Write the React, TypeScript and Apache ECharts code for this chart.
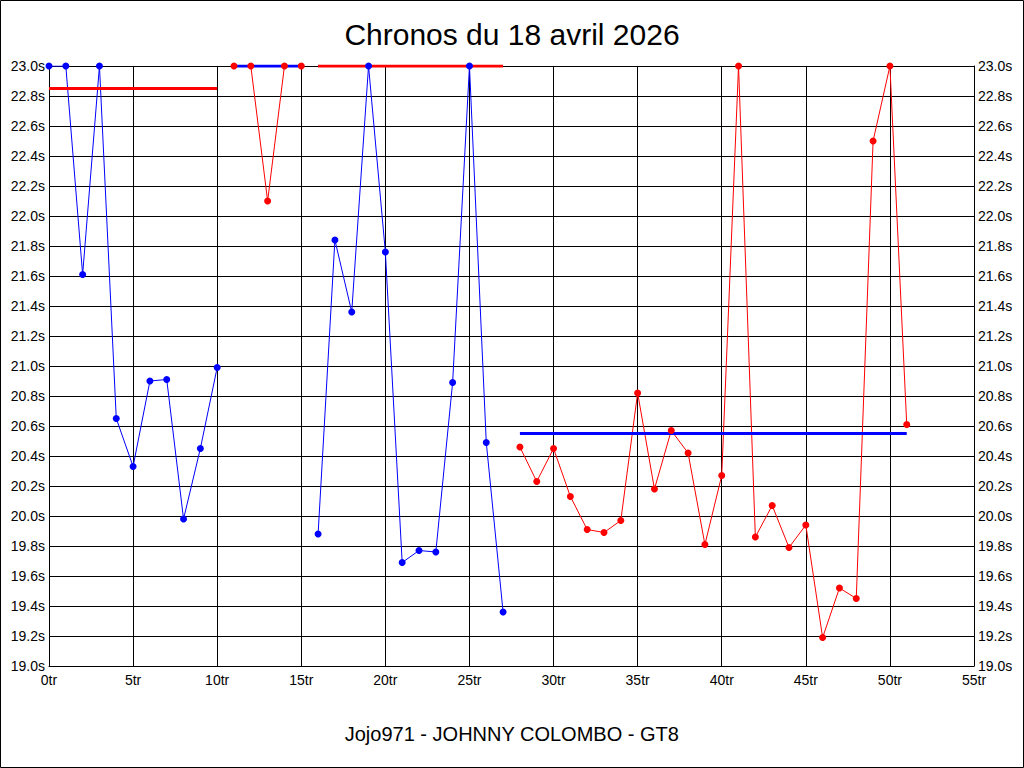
import React, { useEffect, useRef } from "react";
import * as echarts from "echarts";

const titleText = "Chronos du 18 avril 2026";
const footerText = "Jojo971 - JOHNNY COLOMBO - GT8";

// Segment start laps and lap times (seconds)
const blueAStart = 0;
const blueAValues = [23.0, 23.0, 21.61, 23.0, 20.65, 20.33, 20.9, 20.91, 19.98, 20.45, 20.99];
const redAStart = 11;
const redAValues = [23.0, 23.0, 22.1, 23.0, 23.0];
const blueBStart = 16;
const blueBValues = [19.88, 21.84, 21.36, 23.0, 21.76, 19.69, 19.77, 19.76, 20.89, 23.0, 20.49, 19.36];
const redBStart = 28;
const redBValues = [
  20.46, 20.23, 20.45, 20.13, 19.91, 19.89, 19.97, 20.82, 20.18, 20.57, 20.42, 19.81,
  20.27, 23.0, 19.86, 20.07, 19.79, 19.94, 19.19, 19.52, 19.45, 22.5, 23.0, 20.61,
];

// Reference (average) lines: [fromLap, toLap, value]
const refRedA = [0, 10, 22.85];
const refBlueA = [11, 15, 23.0];
const refRedB = [16, 27, 23.0];
const refBlueB = [28, 51, 20.55];

const BLUE = "#0000ff";
const RED = "#ff0000";
const FONT = "Liberation Sans, Arial, sans-serif";

const toPairs = (start: number, vals: number[]) => vals.map((v, i) => [start + i, v]);

export default function App() {
  const ref = useRef<HTMLDivElement>(null);
  useEffect(() => {
    if (!ref.current) return;
    const chart = echarts.init(ref.current, null, { renderer: "svg" });
    const segs = [
      { start: blueAStart, vals: blueAValues, color: BLUE },
      { start: redAStart, vals: redAValues, color: RED },
      { start: blueBStart, vals: blueBValues, color: BLUE },
      { start: redBStart, vals: redBValues, color: RED },
    ];
    const refs = [
      { r: refRedA, color: RED },
      { r: refBlueA, color: BLUE },
      { r: refRedB, color: RED },
      { r: refBlueB, color: BLUE },
    ];
    const yLabel = {
      fontFamily: FONT,
      fontSize: 14,
      color: "#000",
      formatter: (v: number) => v.toFixed(1) + "s",
    };
    const series: any[] = [];
    segs.forEach((s) => {
      series.push({
        type: "line",
        data: toPairs(s.start, s.vals),
        showSymbol: false,
        lineStyle: { color: s.color, width: 1 },
        itemStyle: { color: s.color },
        z: 2,
        silent: true,
      });
    });
    refs.forEach((o) => {
      series.push({
        type: "line",
        data: [
          [o.r[0], o.r[2]],
          [o.r[1], o.r[2]],
        ],
        showSymbol: false,
        lineStyle: { color: o.color, width: 3 },
        z: 3,
        silent: true,
      });
    });
    segs.forEach((s) => {
      series.push({
        type: "scatter",
        data: toPairs(s.start, s.vals),
        symbol: "circle",
        symbolSize: 7,
        itemStyle: { color: s.color, opacity: 1 },
        z: 4,
        silent: true,
      });
    });
    chart.setOption({
      animation: false,
      backgroundColor: "#fff",
      title: {
        text: titleText,
        left: "center",
        top: 14,
        textStyle: {
          fontFamily: FONT,
          fontSize: 30,
          fontWeight: "normal",
          color: "#000",
        },
      },
      graphic: [
        {
          type: "rect",
          shape: { x: 0.5, y: 0.5, width: 1023, height: 767 },
          style: { fill: "none", stroke: "#000", lineWidth: 1 },
          silent: true,
        },
        {
          type: "text",
          left: "center",
          top: 724,
          style: {
            text: footerText,
            fontFamily: FONT,
            fontSize: 20,
            fill: "#000",
          },
        },
      ],
      grid: { left: 49, right: 50, top: 66, bottom: 102, containLabel: false },
      xAxis: {
        type: "value",
        min: 0,
        max: 55,
        interval: 5,
        axisLine: { show: true, lineStyle: { color: "#000", width: 1 } },
        axisTick: { show: false },
        splitLine: { show: true, lineStyle: { color: "#000", width: 1 } },
        axisLabel: {
          fontFamily: FONT,
          fontSize: 14,
          color: "#000",
          margin: 7,
          formatter: (v: number) => v + "tr",
        },
      },
      yAxis: [
        {
          type: "value",
          min: 19,
          max: 23,
          interval: 0.2,
          position: "left",
          axisLine: { show: true, lineStyle: { color: "#000", width: 1 } },
          axisTick: { show: false },
          splitLine: { show: true, lineStyle: { color: "#000", width: 1 } },
          axisLabel: { ...yLabel, margin: 4 },
        },
        {
          type: "value",
          min: 19,
          max: 23,
          interval: 0.2,
          position: "right",
          axisLine: { show: true, lineStyle: { color: "#000", width: 1 } },
          axisTick: { show: false },
          splitLine: { show: false },
          axisLabel: { ...yLabel, margin: 4 },
        },
      ],
      series,
    });
    return () => chart.dispose();
  }, []);
  return (
    <div
      ref={ref}
      style={{ position: "fixed", left: 0, top: 0, width: 1024, height: 768, background: "#fff" }}
    />
  );
}
